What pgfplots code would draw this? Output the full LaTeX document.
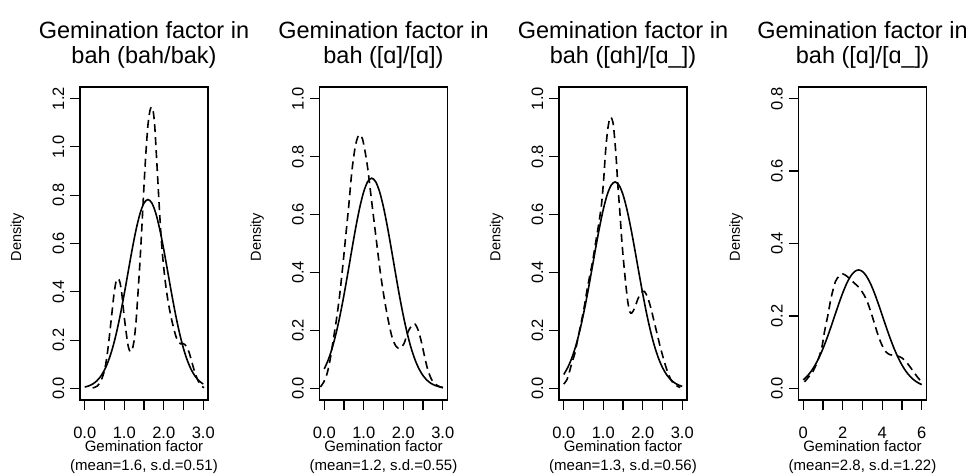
\documentclass[border=0pt]{standalone}
\usepackage{pgfplots}
\pgfplotsset{compat=1.18}
\usepackage{fontspec}
\setmainfont{Liberation Sans}

\newcommand\tickfont{\fontsize{16.5}{18}\selectfont}
\newcommand\titlefont{\fontsize{23.5}{26}\selectfont}
\newcommand\labfont{\fontsize{15}{16}\selectfont}
\newcommand\ylabfont{\fontsize{14.5}{16}\selectfont}

\pgfplotsset{
  panel/.style={
    scale only axis, width=128pt, height=313pt, anchor=south west,
    axis line style={line width=1.2pt},
    every tick/.style={line width=1.2pt, black},
    tick align=outside, major tick length=10pt,
    xtick pos=bottom, ytick pos=left,
    xticklabel style={font=\tickfont, anchor=base, yshift=-28pt, inner sep=0pt},
    yticklabel style={font=\tickfont, xshift=-6pt, rotate=90, anchor=base, inner sep=0pt},
  },
  solidc/.style={black, line width=1.6pt, smooth},
  dashc/.style={black, line width=1.6pt, dash pattern=on 8pt off 5pt, smooth},
}

\begin{document}
\begin{tikzpicture}[x=1pt,y=1pt]
\useasboundingbox (0,0) rectangle (966,475);

% panel 1: bah/bak
\begin{axis}[panel, at={(80pt,75pt)},
  xmin=-0.12, xmax=3.12, ymin=-0.048, ymax=1.248,
  xtick={0,0.5,1,1.5,2,2.5,3}, xticklabels={0.0,,1.0,,2.0,,3.0},
  ytick={0,0.2,0.4,0.6,0.8,1.0,1.2}, yticklabels={0.0,0.2,0.4,0.6,0.8,1.0,1.2}]
\addplot[solidc] coordinates {(0,0.0057)(0.1,0.0104)(0.2,0.0181)(0.3,0.0304)(0.4,0.0491)(0.5,0.0764)(0.6,0.1144)(0.7,0.1649)(0.8,0.2286)(0.9,0.3050)(1.0,0.3916)(1.1,0.4838)(1.2,0.5751)(1.3,0.6579)(1.4,0.7244)(1.5,0.7674)(1.6,0.7822)(1.7,0.7674)(1.8,0.7244)(1.9,0.6579)(2.0,0.5751)(2.1,0.4838)(2.2,0.3916)(2.3,0.3050)(2.4,0.2286)(2.5,0.1649)(2.6,0.1144)(2.7,0.0764)(2.8,0.0491)(2.9,0.0304)(3.0,0.0181)};
\addplot[dashc] coordinates {(0.20,0.002)(0.32,0.010)(0.42,0.035)(0.50,0.075)(0.56,0.13)(0.62,0.21)(0.68,0.30)(0.74,0.39)(0.79,0.44)(0.84,0.455)(0.89,0.44)(0.94,0.39)(0.99,0.31)(1.05,0.23)(1.10,0.175)(1.15,0.152)(1.20,0.16)(1.25,0.20)(1.30,0.28)(1.35,0.40)(1.40,0.53)(1.45,0.68)(1.50,0.84)(1.55,0.98)(1.60,1.09)(1.65,1.15)(1.69,1.165)(1.73,1.15)(1.77,1.09)(1.82,0.95)(1.87,0.80)(1.92,0.66)(1.97,0.55)(2.04,0.44)(2.12,0.35)(2.22,0.27)(2.32,0.21)(2.42,0.185)(2.50,0.185)(2.57,0.175)(2.64,0.15)(2.71,0.11)(2.78,0.07)(2.86,0.035)(2.94,0.012)(3.02,0.003)};
\end{axis}

% panel 2: [a]/[a]
\begin{axis}[panel, at={(319.5pt,75pt)},
  xmin=-0.12, xmax=3.12, ymin=-0.04, ymax=1.04,
  xtick={0,0.5,1,1.5,2,2.5,3}, xticklabels={0.0,,1.0,,2.0,,3.0},
  ytick={0,0.2,0.4,0.6,0.8,1.0}, yticklabels={0.0,0.2,0.4,0.6,0.8,1.0}]
\addplot[solidc] coordinates {(0,0.0671)(0.1,0.0982)(0.2,0.1389)(0.3,0.1902)(0.4,0.2519)(0.5,0.3227)(0.6,0.4001)(0.7,0.4798)(0.8,0.5568)(0.9,0.6251)(1.0,0.6790)(1.1,0.7135)(1.2,0.7254)(1.3,0.7135)(1.4,0.6790)(1.5,0.6251)(1.6,0.5568)(1.7,0.4798)(1.8,0.4001)(1.9,0.3227)(2.0,0.2519)(2.1,0.1902)(2.2,0.1389)(2.3,0.0982)(2.4,0.0671)(2.5,0.0444)(2.6,0.0284)(2.7,0.0176)(2.8,0.0105)(2.9,0.0061)(3.0,0.0034)};
\addplot[dashc] coordinates {(-0.10,0.005)(-0.02,0.02)(0.07,0.05)(0.15,0.10)(0.22,0.16)(0.30,0.23)(0.38,0.31)(0.46,0.41)(0.54,0.52)(0.62,0.63)(0.70,0.75)(0.78,0.83)(0.85,0.868)(0.91,0.875)(0.97,0.86)(1.03,0.82)(1.10,0.76)(1.17,0.68)(1.24,0.60)(1.32,0.51)(1.42,0.40)(1.52,0.31)(1.62,0.235)(1.72,0.175)(1.82,0.145)(1.92,0.138)(2.02,0.155)(2.12,0.195)(2.22,0.218)(2.30,0.222)(2.38,0.20)(2.46,0.16)(2.54,0.11)(2.62,0.065)(2.72,0.03)(2.84,0.012)(2.96,0.004)(3.05,0.001)};
\end{axis}

% panel 3: [ah]/[a_]
\begin{axis}[panel, at={(559pt,75pt)},
  xmin=-0.12, xmax=3.12, ymin=-0.04, ymax=1.04,
  xtick={0,0.5,1,1.5,2,2.5,3}, xticklabels={0.0,,1.0,,2.0,,3.0},
  ytick={0,0.2,0.4,0.6,0.8,1.0}, yticklabels={0.0,0.2,0.4,0.6,0.8,1.0}]
\addplot[solidc] coordinates {(0,0.0481)(0.1,0.0717)(0.2,0.1035)(0.3,0.1446)(0.4,0.1958)(0.5,0.2568)(0.6,0.3262)(0.7,0.4013)(0.8,0.4782)(0.9,0.5520)(1.0,0.6172)(1.1,0.6684)(1.2,0.7011)(1.3,0.7124)(1.4,0.7011)(1.5,0.6684)(1.6,0.6172)(1.7,0.5520)(1.8,0.4782)(1.9,0.4013)(2.0,0.3262)(2.1,0.2568)(2.2,0.1958)(2.3,0.1446)(2.4,0.1035)(2.5,0.0717)(2.6,0.0481)(2.7,0.0313)(2.8,0.0197)(2.9,0.0120)(3.0,0.0071)};
\addplot[dashc] coordinates {(0.00,0.015)(0.08,0.03)(0.15,0.06)(0.21,0.09)(0.28,0.12)(0.34,0.16)(0.40,0.20)(0.46,0.24)(0.53,0.29)(0.59,0.34)(0.66,0.39)(0.72,0.43)(0.78,0.48)(0.84,0.53)(0.90,0.58)(0.96,0.64)(1.01,0.72)(1.06,0.82)(1.11,0.89)(1.16,0.93)(1.20,0.935)(1.25,0.915)(1.29,0.86)(1.33,0.79)(1.37,0.70)(1.42,0.61)(1.47,0.51)(1.52,0.43)(1.57,0.36)(1.62,0.30)(1.67,0.265)(1.72,0.26)(1.79,0.276)(1.88,0.31)(1.96,0.33)(2.04,0.335)(2.12,0.315)(2.20,0.28)(2.28,0.235)(2.36,0.19)(2.44,0.145)(2.53,0.10)(2.62,0.06)(2.72,0.028)(2.82,0.012)(2.95,0.003)};
\end{axis}

% panel 4: [a]/[a_]
\begin{axis}[panel, at={(798.5pt,75pt)},
  xmin=-0.24, xmax=6.24, ymin=-0.032, ymax=0.832,
  xtick={0,1,2,3,4,5,6}, xticklabels={0,,2,,4,,6},
  ytick={0,0.2,0.4,0.6,0.8}, yticklabels={0.0,0.2,0.4,0.6,0.8}]
\addplot[solidc] coordinates {(0,0.0235)(0.2,0.0338)(0.4,0.0472)(0.6,0.0643)(0.8,0.0853)(1.0,0.1101)(1.2,0.1384)(1.4,0.1693)(1.6,0.2016)(1.8,0.2337)(2.0,0.2637)(2.2,0.2898)(2.4,0.3099)(2.6,0.3226)(2.8,0.3270)(3.0,0.3226)(3.2,0.3099)(3.4,0.2898)(3.6,0.2637)(3.8,0.2337)(4.0,0.2016)(4.2,0.1693)(4.4,0.1384)(4.6,0.1101)(4.8,0.0853)(5.0,0.0643)(5.2,0.0472)(5.4,0.0338)(5.6,0.0235)(5.8,0.0159)(6.0,0.0105)};
\addplot[dashc] coordinates {(0.06,0.018)(0.25,0.03)(0.48,0.046)(0.65,0.065)(0.82,0.09)(0.95,0.115)(1.07,0.155)(1.24,0.20)(1.41,0.25)(1.63,0.295)(1.82,0.31)(2.0,0.316)(2.2,0.31)(2.4,0.30)(2.6,0.29)(2.8,0.28)(3.0,0.265)(3.2,0.245)(3.4,0.215)(3.6,0.18)(3.8,0.145)(4.0,0.118)(4.2,0.100)(4.4,0.093)(4.6,0.091)(4.8,0.089)(5.0,0.084)(5.2,0.074)(5.4,0.060)(5.6,0.045)(5.8,0.030)(6.0,0.018)};
\end{axis}

% titles and axis labels
\foreach \cx/\sub/\st in {144/{bah (bah/bak)}/{mean=1.6, s.d.=0.51},
                          383.5/{bah ([ɑ]/[ɑ])}/{mean=1.2, s.d.=0.55},
                          623/{bah ([ɑh]/[ɑ\_])}/{mean=1.3, s.d.=0.56},
                          862.5/{bah ([ɑ]/[ɑ\_])}/{mean=2.8, s.d.=1.22}} {
  \node[anchor=base, inner sep=0pt, font=\titlefont] at (\cx,436) {Gemination factor in};
  \node[anchor=base, inner sep=0pt, font=\titlefont] at (\cx,411) {\sub};
  \node[anchor=base, inner sep=0pt, font=\labfont] at (\cx,23.5) {Gemination factor};
  \node[anchor=base, inner sep=0pt, font=\labfont] at (\cx,5) {(\st)};
  \node[rotate=90, inner sep=0pt, font=\ylabfont] at (\cx-126.5,238) {Density};
}
\end{tikzpicture}
\end{document}
